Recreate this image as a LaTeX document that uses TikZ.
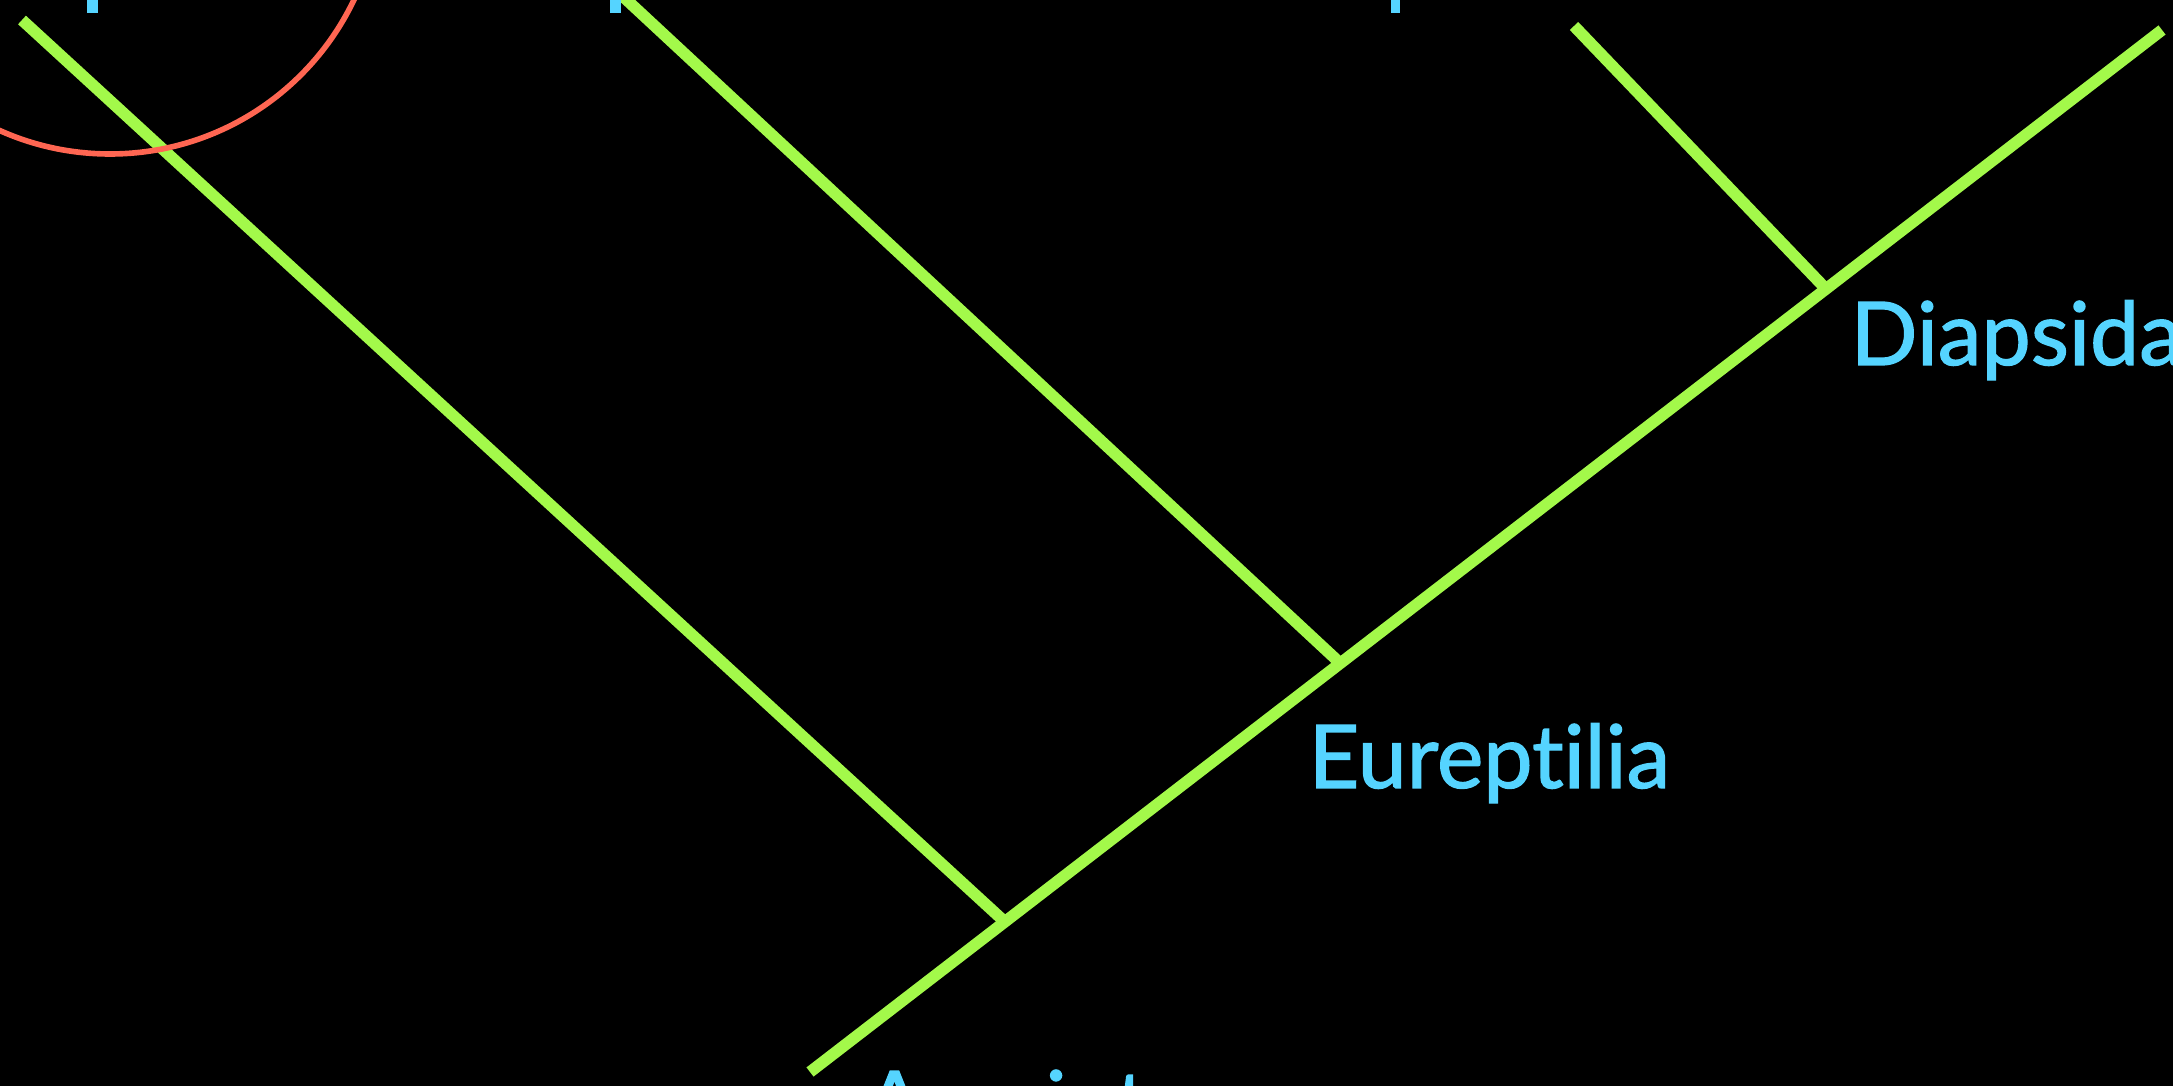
\documentclass[tikz,border=0pt]{standalone}
\usepackage{fontspec}
\setmainfont{Lato}[Ligatures=NoCommon]
\newfontfamily\taxonfont{Lato}[Ligatures=NoCommon,FakeBold=1.4]
\usepackage{xcolor}
\usepackage{tikz}
\usetikzlibrary{positioning}
\definecolor{CladeGreen}{HTML}{A3F94A}
\definecolor{CladeBlue}{HTML}{55D4FF}
\definecolor{CladeRed}{HTML}{FF6652}

\begin{document}
\begin{tikzpicture}[x=0.01cm,y=-0.01cm,
  branch/.style={CladeGreen,line width=3.3pt},
  taxon/.style={CladeBlue,font=\taxonfont\fontsize{25}{30}\selectfont,inner sep=0pt,anchor=base west}]
  \useasboundingbox[fill=black] (0,0) rectangle (2173,1086);
  \clip (0,0) rectangle (2173,1086);
  % main stem and its nodes
  \coordinate (root) at (810,1072);
  \coordinate (amn) at (1005,922);
  \coordinate (eur) at (1340,663);
  \coordinate (dia) at (1826,289);
  \coordinate (top) at (2162,30);
  % tips of the side branches
  \coordinate (tipA) at (22,20);
  \coordinate (tipB) at (616,-10);
  \coordinate (tipC) at (1574,26);
  \draw[branch] (root)--(top);
  \draw[branch] (tipA)--(amn);
  \draw[branch] (tipB)--(eur);
  \draw[branch] (tipC)--(dia);
  % ring round the first tip
  \coordinate (ring) at (110,-116);
  \draw[CladeRed,line width=1.6pt] (ring) circle[radius=270];
  % labels
  \node[taxon] (diaLbl) at (1850,365) {Diapsida};
  \node[taxon] (eurLbl) at (1308,788) {Eureptilia};
  \node[taxon] (amnLbl) at (864,1134) {Amniota};
  % bits of the labels above
  \fill[CladeBlue] (87,0) rectangle (98,13);
  \fill[CladeBlue] (610,0) rectangle (621,13);
  \fill[CladeBlue] (1391,0) rectangle (1400,13);
\end{tikzpicture}
\end{document}
